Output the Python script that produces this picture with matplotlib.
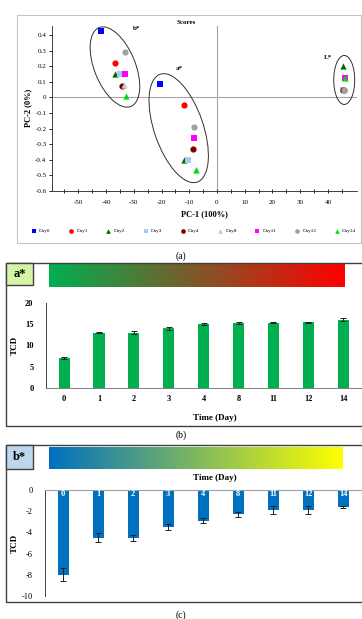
import numpy as np
import matplotlib
matplotlib.use("Agg")
import matplotlib.pyplot as plt
from matplotlib.patches import Rectangle, Ellipse
from matplotlib.transforms import ScaledTranslation

plt.rcParams['font.family'] = ['Liberation Serif', 'DejaVu Serif']
plt.rcParams['axes.unicode_minus'] = False

W, H = 362, 619

# ---- data ----
days = ['0', '1', '2', '3', '4', '8', '11', '12', '14']
day_names = ['Day0', 'Day1', 'Day2', 'Day3', 'Day4', 'Day8', 'Day11', 'Day12', 'Day14']
day_colors = ['#0000ff', '#ff0000', '#006a00', '#a9c9ec', '#7a0000',
              '#c8c8c8', '#ff00ff', '#a0a0a0', '#00e000']
day_markers = ['s', 'o', '^', 's', 'o', '^', 's', 'o', '^']

# PCA scores, one list per group (b*, a*, L*), ordered by day
bstar_x = [-41.7, -36.6, -36.9, -35.1, -34.4, -33.6, -33.2, -33.1, -32.7]
bstar_y = [0.425, 0.22, 0.15, 0.15, 0.075, 0.08, 0.15, 0.29, 0.01]
astar_x = [-20.4, -12.0, -12.0, -10.4, -8.8, -7.5, -8.4, -8.4, -7.4]
astar_y = [0.085, -0.05, -0.40, -0.40, -0.33, -0.46, -0.26, -0.19, -0.465]
lstar_x = [45.3, 45.8, 45.4, 45.3, 45.6, 45.9, 46.1, 45.8, 46.0]
lstar_y = [0.05, 0.05, 0.20, 0.05, 0.05, 0.05, 0.125, 0.05, 0.127]

# TCD of a* and b*
a_tcd = [7.0, 13.0, 13.0, 14.1, 15.1, 15.3, 15.4, 15.5, 16.1]
a_err = [0.2, 0.15, 0.35, 0.35, 0.3, 0.15, 0.15, 0.1, 0.45]
b_tcd = [-8.0, -4.5, -4.5, -3.5, -2.9, -2.3, -1.9, -1.9, -1.6]
b_err = [0.6, 0.4, 0.3, 0.3, 0.22, 0.22, 0.35, 0.4, 0.12]


def fbox(x0, y0, x1, y1):
    # pixel box (top-left origin) -> figure fraction rect
    return [x0 / W, 1 - y1 / H, (x1 - x0) / W, (y1 - y0) / H]


def fpt(x, y):
    return x / W, 1 - y / H


fig = plt.figure(figsize=(W / 100, H / 100), dpi=100)

# frames of the three panels
r = fbox(17, 15, 361, 243)
fig.add_artist(Rectangle(r[:2], *r[2:], transform=fig.transFigure,
                         fill=False, ec='#c4c4c4', lw=0.8))
for r in [fbox(6, 263, 366, 426), fbox(6, 445, 366, 602)]:
    fig.add_artist(Rectangle(r[:2], *r[2:], transform=fig.transFigure,
                             fill=False, ec='#404040', lw=1.0))

# ---------- (a) scores plot ----------
ax = fig.add_axes(fbox(52, 25.7, 357, 191))
ax.axhline(0, color='#a6a6a6', lw=0.8, zorder=1)
ax.axvline(0, color='#a6a6a6', lw=0.8, zorder=1)
for i in range(len(days)):
    ax.scatter([bstar_x[i], astar_x[i], lstar_x[i]],
               [bstar_y[i], astar_y[i], lstar_y[i]],
               marker=day_markers[i], color=day_colors[i], s=20,
               linewidths=0, label=day_names[i], zorder=3)

ax.set_xlim(-59.5, 50.5)
ax.set_ylim(-0.6, 0.46)
ax.set_xticks(range(-50, 41, 10))
ax.set_xticks(range(-55, 51, 10), minor=True)
ax.set_yticks(np.round(np.arange(-0.6, 0.41, 0.1), 1))
ax.set_yticklabels(['-0.6', '-0.5', '-0.4', '-0.3', '-0.2', '-0.1', '0',
                    '0.1', '0.2', '0.3', '0.4'])
ax.tick_params(axis='both', which='both', labelsize=5, length=2.5, width=0.6,
               direction='inout', pad=5)
ax.tick_params(axis='y', direction='out', length=2, pad=2)
for s in ['top', 'right']:
    ax.spines[s].set_visible(False)
for s in ['left', 'bottom']:
    ax.spines[s].set_linewidth(0.7)
    ax.spines[s].set_color('#404040')
ax.set_xlabel('PC-1 (100%)', fontsize=6, fontweight='bold', labelpad=4)
ax.set_ylabel('PC-2 (0%)', fontsize=6, fontweight='bold', labelpad=2)
fig.text(*fpt(186, 22), 'Scores', fontsize=5, fontweight='bold', ha='center', va='center')

# group ellipses (sizes in pixels, centred on data points)
for cx, cy, w, h, ang in [(-36.8, 0.195, 41, 85, 22), (-13.8, -0.197, 49, 114, 19),
                          (45.9, 0.112, 21, 49, 0)]:
    tr = fig.dpi_scale_trans + ScaledTranslation(cx, cy, ax.transData)
    ax.add_patch(Ellipse((0, 0), w / 100, h / 100, angle=ang, transform=tr,
                         fill=False, ec='#303030', lw=0.7, clip_on=False, zorder=2))
ax.text(-28.8, 0.44, 'b*', fontsize=5, fontweight='bold', ha='center', va='center')
ax.text(-13.7, 0.183, 'a*', fontsize=5, fontweight='bold', ha='center', va='center')
ax.text(39.9, 0.253, 'L*', fontsize=5, fontweight='bold', ha='center', va='center')

fig.legend(loc='center', bbox_to_anchor=fpt(194, 231), ncol=9, fontsize=3.8,
           frameon=False, handlelength=0.8, handletextpad=0.6, columnspacing=3.5,
           markerscale=0.75, borderaxespad=0, borderpad=0)

fig.text(*fpt(181, 256), '(a)', fontsize=7, ha='center', va='center')
fig.text(*fpt(181, 435), '(b)', fontsize=7, ha='center', va='center')
fig.text(*fpt(181, 615), '(c)', fontsize=7, ha='center', va='center')


def gradient_bar(rect, c0, c1):
    gax = fig.add_axes(rect)
    t = np.linspace(0, 1, 256)[:, None]
    rgb = (1 - t) * np.array(c0) + t * np.array(c1)
    gax.imshow(rgb[None, :, :], aspect='auto', extent=[0, 1, 0, 1])
    gax.set_axis_off()


def tag(r, txt, color):
    fig.add_artist(Rectangle(r[:2], *r[2:], transform=fig.transFigure,
                             fc=color, ec='#404040', lw=1.0))
    fig.text(r[0] + r[2] / 2, r[1] + r[3] / 2, txt, fontsize=9, fontweight='bold',
             ha='center', va='center')


x = np.arange(len(days))

# ---------- (b) a* ----------
gradient_bar(fbox(49, 264, 345, 287), [0, 176 / 255, 80 / 255], [1, 0, 0])
tag(fbox(6, 263, 33, 285), 'a*', '#d4f5a6')
axb = fig.add_axes(fbox(46, 303, 362, 388))
axb.bar(x, a_tcd, width=0.32, color='#00b050', yerr=a_err,
        error_kw=dict(ecolor='#202020', elinewidth=0.7, capsize=2, capthick=0.7))
axb.set_xlim(-0.52, 8.54)
axb.set_ylim(0, 20)
axb.set_yticks([0, 5, 10, 15, 20])
axb.set_xticks(x)
axb.set_xticklabels(days)
axb.tick_params(length=0, labelsize=6, pad=5)
for lab in axb.get_xticklabels() + axb.get_yticklabels():
    lab.set_fontweight('bold')
axb.tick_params(axis='y', pad=9)
for s in ['top', 'right']:
    axb.spines[s].set_visible(False)
axb.spines['left'].set_color('#404040')
axb.spines['bottom'].set_color('#808080')
axb.spines['left'].set_linewidth(0.7)
axb.spines['bottom'].set_linewidth(0.7)
axb.set_ylabel('TCD', fontsize=6.5, fontweight='bold')
axb.yaxis.set_label_coords(-0.085, 0.5)
fig.text(*fpt(215, 418), 'Time (Day)', fontsize=6.5, fontweight='bold',
         ha='center', va='center')

# ---------- (c) b* ----------
gradient_bar(fbox(49, 447, 343, 469), [0, 112 / 255, 192 / 255], [1, 1, 0])
tag(fbox(6, 445, 33, 469), 'b*', '#bdd7ee')
axc = fig.add_axes(fbox(45, 490, 362, 596))
axc.bar(x, b_tcd, width=0.32, color='#0070c0', yerr=b_err,
        error_kw=dict(ecolor='#202020', elinewidth=0.7, capsize=2, capthick=0.7))
for xi, d in zip(x, days):
    axc.text(xi, -0.35, d, color='white', fontsize=6, fontweight='bold',
             ha='center', va='center')
axc.set_xlim(-0.52, 8.54)
axc.set_ylim(-10, 0)
axc.set_yticks([0, -2, -4, -6, -8, -10])
axc.set_xticks([])
axc.tick_params(length=0, labelsize=6, pad=9)
for s in ['bottom', 'right']:
    axc.spines[s].set_visible(False)
axc.spines['top'].set_color('#a0a0a0')
axc.spines['top'].set_linewidth(0.8)
axc.spines['left'].set_color('#404040')
axc.spines['left'].set_linewidth(0.7)
axc.set_ylabel('TCD', fontsize=6.5, fontweight='bold')
axc.yaxis.set_label_coords(-0.082, 0.5)
fig.text(*fpt(215, 478), 'Time (Day)', fontsize=6.5, fontweight='bold',
         ha='center', va='center')

fig.savefig('out.png', dpi=100)
